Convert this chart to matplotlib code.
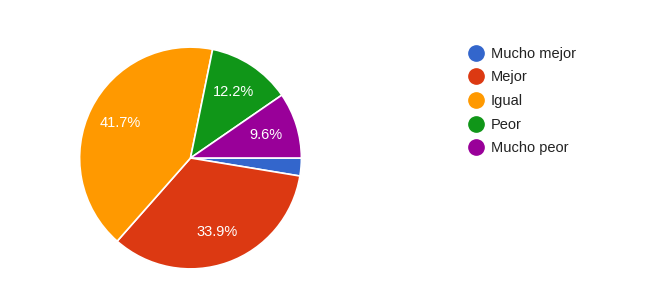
import matplotlib
matplotlib.use("Agg")
import matplotlib.pyplot as plt
from matplotlib.lines import Line2D

categories = ["Mucho mejor", "Mejor", "Igual", "Peor", "Mucho peor"]
values = [2.6, 33.9, 41.7, 12.2, 9.6]
colors = ["#3366cc", "#dc3912", "#ff9900", "#109618", "#990099"]

plt.rcParams['font.family'] = ['Liberation Sans', 'DejaVu Sans']

fig = plt.figure(figsize=(6.65, 3.06), dpi=100)
fig.patch.set_facecolor("white")

cx, cy, r = 190.5, 158, 112
W, H = 665, 306
ax = fig.add_axes([(cx - r) / W, (H - cy - r) / H, 2 * r / W, 2 * r / H])

def fmt(p):
    return f"{p:.1f}%" if p >= 5 else ""

wedges, texts, autotexts = ax.pie(
    values, colors=colors, startangle=0, counterclock=False,
    autopct=fmt, pctdistance=0.71, radius=1,
    wedgeprops=dict(edgecolor="white", linewidth=1.2),
    textprops=dict(color="white", fontsize=10.5))
ax.set_xlim(-1.01, 1.01)
ax.set_ylim(-1.01, 1.01)
ax.set_aspect("equal")
ax.axis("off")

handles = [Line2D([0], [0], marker='o', linestyle='', markersize=11,
                  markerfacecolor=c, markeredgecolor=c) for c in colors]
fig.legend(handles, categories, loc="upper left",
           bbox_to_anchor=(463 / W, 1 - 41 / H), frameon=False,
           fontsize=10.5, labelcolor="#222222", handlelength=1.0,
           handletextpad=0.5, labelspacing=0.66, borderaxespad=0)

fig.savefig("out.png", dpi=100, facecolor="white")
